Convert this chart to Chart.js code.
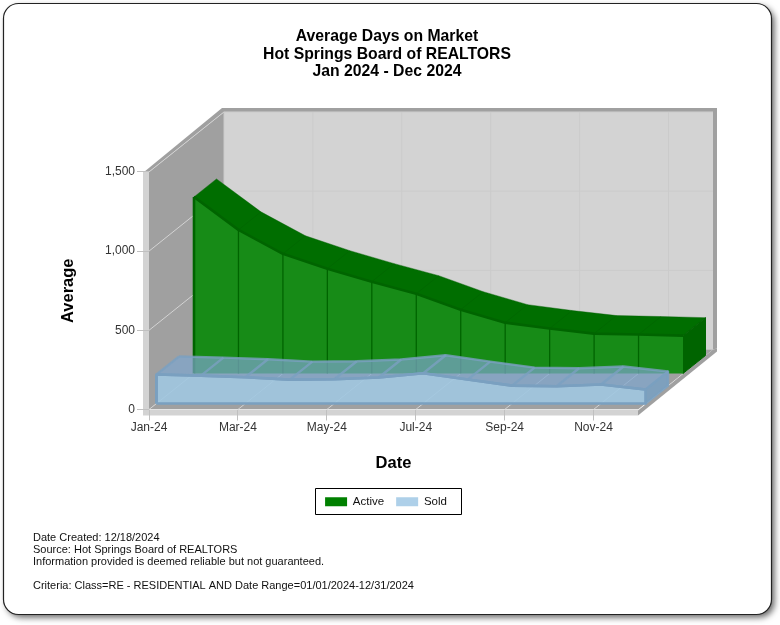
<html>
<head>
<style>
    body { margin: 0; background: #fff; }
</style>
<script src="https://cdn.jsdelivr.net/npm/chart.js@4"></script>
</head>
<body>
<canvas id="chartCanvas" width="780" height="625"></canvas>
<script>
var months = ["Jan-24", "Feb-24", "Mar-24", "Apr-24", "May-24", "Jun-24", "Jul-24", "Aug-24", "Sep-24", "Oct-24", "Nov-24", "Dec-24"];
var active = [1115, 907, 756, 662, 580, 504, 403, 321, 284, 252, 246, 239];
var sold = [183, 176, 166, 151, 153, 164, 191, 151, 113, 109, 120, 88];
var titleLines = ["Average Days on Market", "Hot Springs Board of REALTORS", "Jan 2024 - Dec 2024"];
var footLines = ["Date Created: 12/18/2024", "Source: Hot Springs Board of REALTORS", "Information provided is deemed reliable but not guaranteed.", "", "Criteria: Class=RE - RESIDENTIAL AND Date Range=01/01/2024-12/31/2024"];

var FONT = "'Liberation Sans', Arial, sans-serif";
var DX = 75, DY = -60;      // how far the back wall sits from the axes
var WALL_DARK = "#a0a0a0", WALL_LIGHT = "#d3d3d3", GRID = "#cbcbcb";

function poly(ctx, pts, fill, stroke, lw) {
    ctx.beginPath();
    pts.forEach(function (p, i) { if (i == 0) ctx.moveTo(p[0], p[1]); else ctx.lineTo(p[0], p[1]); });
    if (fill) { ctx.closePath(); ctx.fillStyle = fill; ctx.fill(); }
    if (stroke) { ctx.strokeStyle = stroke; ctx.lineWidth = lw; ctx.lineJoin = "round"; ctx.stroke(); }
}

function drawFrame(ctx) {
    ctx.save();
    ctx.shadowColor = "rgba(0,0,0,0.6)";
    ctx.shadowBlur = 6;
    ctx.shadowOffsetX = 3;
    ctx.shadowOffsetY = 3;
    ctx.beginPath();
    ctx.roundRect(3.5, 3.5, 768, 611, 15);
    ctx.fillStyle = "#fff";
    ctx.fill();
    ctx.restore();
    ctx.beginPath();
    ctx.roundRect(3.5, 3.5, 768, 611, 15);
    ctx.strokeStyle = "#222";
    ctx.lineWidth = 1.2;
    ctx.stroke();
}

function drawWalls(chart) {
    var ctx = chart.ctx, a = chart.chartArea;
    var L = a.left, R = a.right, T = a.top, B = a.bottom;
    // back wall + left wall + floor
    poly(ctx, [[L + DX, T + DY], [R + DX, T + DY], [R + DX, B + DY], [L + DX, B + DY]], WALL_LIGHT);
    poly(ctx, [[L, T], [L + DX, T + DY], [L + DX, B + DY], [L, B]], WALL_DARK);
    poly(ctx, [[L, B], [L + DX, B + DY], [R + DX, B + DY], [R, B]], WALL_DARK);
    // outer edge of the walls
    poly(ctx, [[L - 5, T], [L + DX - 2, T + DY - 4], [R + DX + 4, T + DY - 4], [R + DX + 4, B + DY - 1], [R + DX, B + DY], [R + DX, T + DY], [L + DX, T + DY], [L, T]], WALL_DARK);
    poly(ctx, [[L - 6, T], [L, T], [L, B], [R, B], [R, B + 6], [L - 6, B + 6]], WALL_LIGHT);
    poly(ctx, [[R, B + 6], [R, B + 1], [R + DX, B + DY], [R + DX + 4, B + DY - 1], [R + DX + 4, B + DY + 2]], WALL_DARK);

    var ys = chart.scales.y, xs = chart.scales.x;
    ys.ticks.forEach(function (t, i) {
        var y = ys.getPixelForTick(i);
        if (i > 0) poly(ctx, [[L + DX, y + DY], [R + DX, y + DY]], null, GRID, 1);
        if (i > 0) poly(ctx, [[L, y], [L + DX, y + DY]], null, WALL_LIGHT, 1);
    });
    poly(ctx, [[L - 6, B], [R, B]], null, "#e4e4e4", 1);
    xs.ticks.forEach(function (t, i) {
        var x = xs.getPixelForTick(i);
        poly(ctx, [[x + DX, T + DY], [x + DX, B + DY]], null, GRID, 1);
        poly(ctx, [[x, B], [x + DX, B + DY]], null, WALL_LIGHT, 1);
    });
}

// one series as a slab between two depths, using the points the scales gave the dataset
function drawSlab(chart, index, f0, f1, st) {
    var ctx = chart.ctx;
    var base = chart.scales.y.getPixelForValue(0);
    var pts = chart.getDatasetMeta(index).data;
    var fx = DX * f0, fy = DY * f0, bx = DX * f1, by = DY * f1;
    var n = pts.length;

    var frontTop = [], backTop = [];
    pts.forEach(function (p) {
        frontTop.push([p.x + fx, p.y + fy]);
        backTop.push([p.x + bx, p.y + by]);
    });
    var first = pts[0].x, last = pts[n - 1].x;

    var top = frontTop.concat(backTop.slice().reverse());
    poly(ctx, top, st.top);
    if (st.topEdge) {
        for (var i = 0; i < n; i++) {
            poly(ctx, [frontTop[i], backTop[i]], null, st.topEdge, st.edgeWidth);
        }
        poly(ctx, backTop, null, st.topEdge, st.edgeWidth);
    }
    poly(ctx, [frontTop[n - 1], backTop[n - 1], [last + bx, base + by], [last + fx, base + fy]], st.side, st.sideEdge, st.edgeWidth);

    var front = [[first + fx, base + fy]].concat(frontTop, [[last + fx, base + fy]]);
    poly(ctx, front, st.front);
    if (st.ribs) {
        for (var j = 1; j < n - 1; j++) {
            poly(ctx, [frontTop[j], [pts[j].x + fx, base + fy]], null, st.ribs, 1.3);
        }
    }
    poly(ctx, frontTop, null, st.edge, st.frontWidth);
    poly(ctx, [[first + fx, base + fy], frontTop[0]], null, st.edge, st.frontWidth);
    if (st.closed) poly(ctx, front.concat([front[0]]), null, st.edge, st.frontWidth);
}

var scene = {
    id: "scene",
    afterLayout: function (chart) {
        // legend and title are centred on the page, not on the plot
        chart.legend.left = 313;
        chart.legend.right = 459;
        chart.legend.top = 484;
        chart.legend.bottom = 514;
        chart.titleBlock.left = 0;
        chart.titleBlock.right = 774;
    },
    beforeDraw: function (chart) {
        drawFrame(chart.ctx);
        drawWalls(chart);
    },
    afterDatasetsDraw: function (chart) {
        drawSlab(chart, 0, 0.6, 0.9, {
            top: "#006e00", topEdge: "rgba(0,96,0,0.4)", edgeWidth: 1,
            side: "#006400", sideEdge: "#006400",
            front: "#178b17", edge: "#006400", frontWidth: 2.6, ribs: "#006400", closed: false
        });
        drawSlab(chart, 1, 0.1, 0.4, {
            top: "rgba(125,165,205,0.7)", topEdge: "rgba(122,160,192,0.8)", edgeWidth: 2.4,
            side: "rgba(122,160,192,0.9)", sideEdge: "rgba(122,160,192,0.9)",
            front: "rgba(160,198,224,0.9)", edge: "rgb(122,160,192)", frontWidth: 2.6, ribs: null, closed: true
        });
    },
    afterDraw: function (chart) {
        var ctx = chart.ctx;
        ctx.strokeStyle = "#000";
        ctx.lineWidth = 1;
        ctx.strokeRect(315.5, 488.5, 146, 26);
        ctx.fillStyle = "#111";
        ctx.font = "11px " + FONT;
        ctx.textAlign = "left";
        ctx.textBaseline = "middle";
        footLines.forEach(function (line, i) {
            ctx.fillText(line, 33, 537.5 + i * 12.2);
        });
    }
};

var chart = new Chart(document.getElementById("chartCanvas").getContext("2d"), {
    type: "line",
    data: {
        labels: months,
        datasets: [
            { label: "Active", data: active, backgroundColor: "#008000", borderColor: "#008000", borderWidth: 0, pointRadius: 0, showLine: false },
            { label: "Sold", data: sold, backgroundColor: "#aed0e9", borderColor: "#aed0e9", borderWidth: 0, pointRadius: 0, showLine: false }
        ]
    },
    options: {
        responsive: false,
        animation: false,
        layout: { padding: { left: 59, right: 142, top: 0, bottom: 118 } },
        plugins: {
            title: {
                display: true,
                text: titleLines,
                color: "#000",
                font: { family: FONT, size: 15.75, weight: "bold", lineHeight: 1.11 },
                padding: { top: 28, bottom: 91.5 }
            },
            legend: {
                position: "bottom",
                labels: {
                    boxWidth: 22, boxHeight: 9, padding: 12, color: "#111",
                    font: { family: FONT, size: 11.5 }
                }
            },
            tooltip: { enabled: false }
        },
        scales: {
            x: {
                afterFit: function (s) { s.height = 64; },
                border: { display: false },
                grid: { drawOnChartArea: false, color: "#c0c0c0", tickLength: 11 },
                ticks: {
                    autoSkip: true, maxTicksLimit: 6, maxRotation: 0, padding: 0,
                    color: "#333", font: { family: FONT, size: 12 }
                },
                title: {
                    display: true, text: "Date", color: "#000", padding: 0,
                    font: { family: FONT, size: 16.5, weight: "bold" }
                }
            },
            y: {
                min: 0,
                max: 1500,
                afterFit: function (s) { s.width = 90; },
                border: { display: false },
                grid: { drawOnChartArea: false, color: "#c0c0c0", tickLength: 12 },
                ticks: {
                    stepSize: 500, padding: 2,
                    color: "#333", font: { family: FONT, size: 12 }
                },
                title: {
                    display: true, text: "Average", color: "#000", padding: 0,
                    font: { family: FONT, size: 16.5, weight: "bold" }
                }
            }
        }
    },
    plugins: [scene]
});
</script>
</body>
</html>
